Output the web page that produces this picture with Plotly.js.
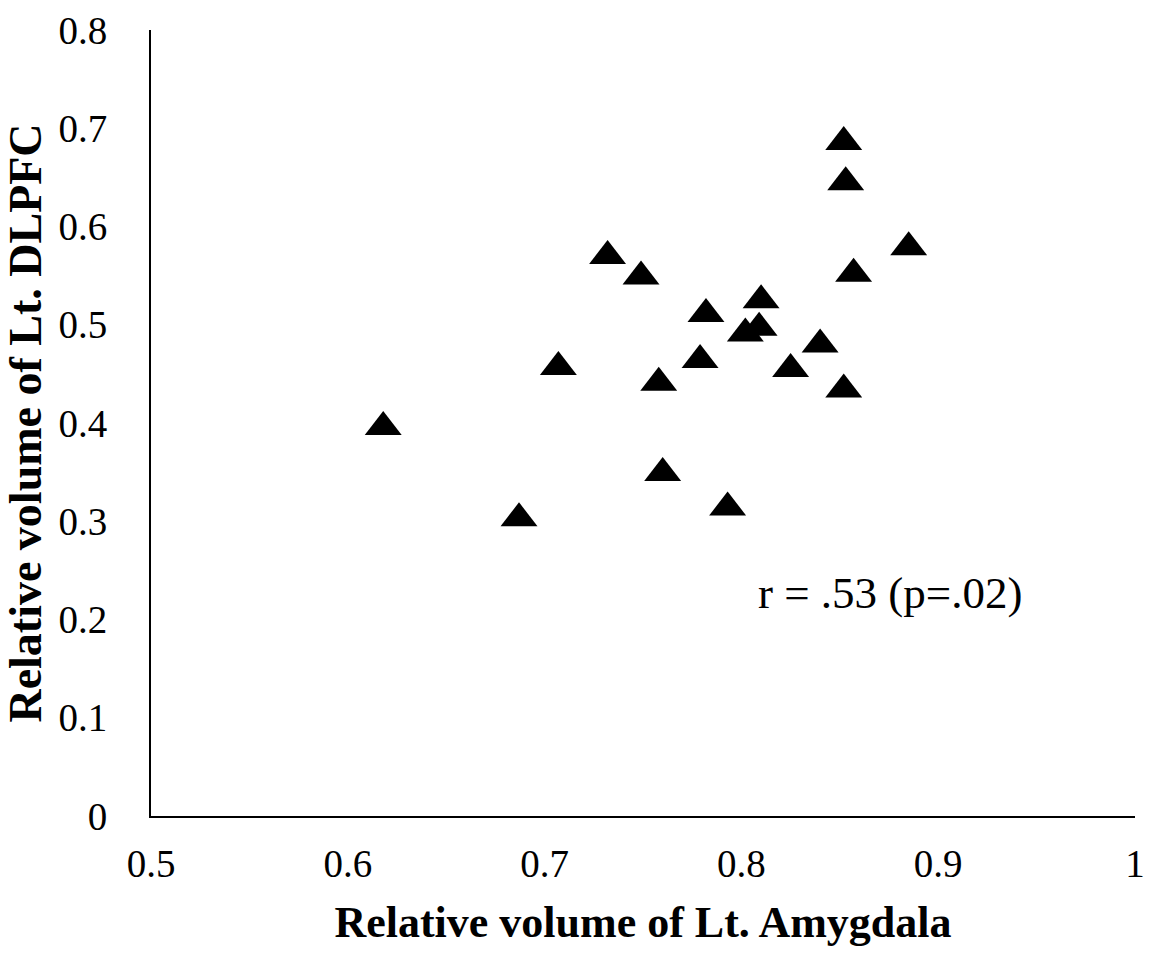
<!DOCTYPE html>
<html>
<head>
<meta charset="utf-8">
<script src="https://cdn.plot.ly/plotly-3.0.1.min.js"></script>
<style>
html, body { margin: 0; padding: 0; background: #ffffff; }
#chart { width: 1149px; height: 953px; }
</style>
</head>
<body>
<div id="chart"></div>
<script>
// Relative volumes
var amygdala = [0.618, 0.687, 0.707, 0.732, 0.749, 0.758, 0.760, 0.779, 0.782, 0.793,
                0.802, 0.809, 0.810, 0.825, 0.840, 0.852, 0.852, 0.853, 0.857, 0.885];
var dlpfc    = [0.396, 0.303, 0.457, 0.570, 0.549, 0.441, 0.349, 0.464, 0.511, 0.314,
                0.491, 0.497, 0.525, 0.455, 0.480, 0.434, 0.686, 0.645, 0.552, 0.579];

var xTicks = [0.5, 0.6, 0.7, 0.8, 0.9, 1];
var xTickLabels = ['0.5', '0.6', '0.7', '0.8', '0.9', '1'];
var yTicks = [0, 0.1, 0.2, 0.3, 0.4, 0.5, 0.6, 0.7, 0.8];
var yTickLabels = ['0', '0.1', '0.2', '0.3', '0.4', '0.5', '0.6', '0.7', '0.8'];

var statText = 'r = .53 (p=.02)';
var statPos = [0.8755, 0.227];

var serif = '"Liberation Serif", "Times New Roman", Times, serif';

var trace = {
  x: amygdala,
  y: dlpfc,
  type: 'scatter',
  mode: 'markers',
  marker: { symbol: 'triangle-up', size: 32, color: '#000000', line: { width: 0 } },
  hoverinfo: 'x+y'
};

var layout = {
  width: 1149,
  height: 953,
  paper_bgcolor: '#ffffff',
  plot_bgcolor: '#ffffff',
  showlegend: false,
  margin: { l: 151, r: 14, t: 30, b: 137 },
  xaxis: {
    range: [0.5, 1],
    tickvals: xTicks,
    ticktext: xTickLabels,
    showgrid: false,
    zeroline: false,
    showline: true,
    linecolor: '#000000',
    linewidth: 2,
    ticks: '',
    ticklabelstandoff: 12,
    tickfont: { family: serif, size: 39, color: '#000000' },
    title: { text: 'Relative volume of Lt. Amygdala', standoff: 22,
             font: { family: serif, size: 44, color: '#000000', weight: 'bold' } }
  },
  yaxis: {
    range: [0, 0.8],
    tickvals: yTicks,
    ticktext: yTickLabels,
    showgrid: false,
    zeroline: false,
    showline: true,
    linecolor: '#000000',
    linewidth: 2,
    ticks: '',
    ticklabelstandoff: 34,
    tickfont: { family: serif, size: 39, color: '#000000' },
    title: { text: 'Relative volume of Lt. DLPFC', standoff: 10,
             font: { family: serif, size: 46, color: '#000000', weight: 'bold' } }
  },
  annotations: [{
    x: statPos[0], y: statPos[1], xref: 'x', yref: 'y',
    text: statText, showarrow: false, xanchor: 'center', yanchor: 'middle',
    font: { family: serif, size: 45, color: '#000000' }
  }]
};

Plotly.newPlot('chart', [trace], layout, { displayModeBar: false, staticPlot: true });
</script>
</body>
</html>
